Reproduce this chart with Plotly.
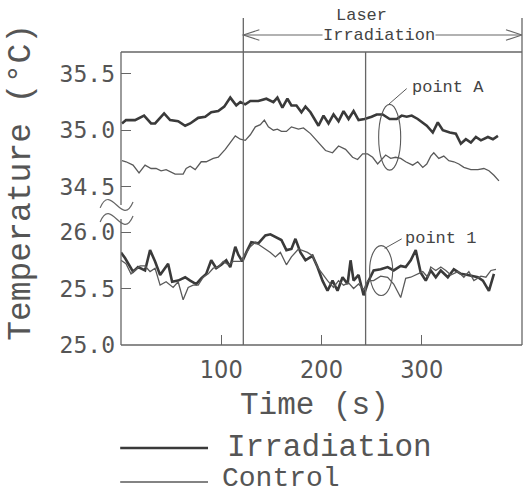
import plotly.graph_objects as go

# ---------------- data ----------------
# point A (upper, broken-axis part), irradiation (thick) and control (thin)
irr_A_t = [1, 5, 14, 23, 30, 34, 43, 49, 57, 64, 69, 77, 84, 90, 97, 103, 109, 115, 119, 124,
           129, 137, 145, 152, 156, 161, 166, 170, 175, 180, 184, 189, 197, 202, 207, 212, 217,
           222, 227, 232, 237, 243, 250, 255, 261, 268, 275, 280, 285, 290, 296, 301, 305, 311,
           316, 321, 328, 334, 339, 344, 349, 354, 359, 366, 371, 376]
irr_A = [35.06, 35.09, 35.09, 35.13, 35.06, 35.06, 35.15, 35.09, 35.08, 35.04, 35.06, 35.11, 35.12,
         35.16, 35.17, 35.21, 35.29, 35.22, 35.25, 35.23, 35.26, 35.26, 35.28, 35.25, 35.29, 35.20,
         35.28, 35.22, 35.22, 35.16, 35.21, 35.16, 35.04, 35.13, 35.06, 35.14, 35.08, 35.17, 35.10,
         35.17, 35.09, 35.10, 35.12, 35.14, 35.14, 35.10, 35.10, 35.13, 35.12, 35.13, 35.10, 35.07,
         35.04, 34.98, 35.07, 35.00, 34.98, 34.97, 34.88, 34.92, 34.89, 34.94, 34.91, 34.94, 34.92,
         34.95]

ctl_A_t = [1, 5, 12, 18, 24, 30, 35, 40, 45, 54, 62, 65, 69, 74, 80, 85, 92, 97, 104, 109, 114,
           119, 124, 129, 134, 139, 143, 147, 152, 156, 160, 165, 170, 177, 182, 189, 191, 197,
           204, 211, 217, 224, 231, 236, 241, 246, 251, 256, 264, 269, 274, 279, 284, 291, 296,
           301, 305, 309, 312, 317, 322, 327, 332, 337, 342, 349, 356, 362, 367, 372, 377]
ctl_A = [34.73, 34.72, 34.69, 34.62, 34.69, 34.66, 34.66, 34.64, 34.65, 34.61, 34.61, 34.66, 34.68,
         34.65, 34.72, 34.72, 34.75, 34.76, 34.83, 34.89, 34.95, 34.92, 34.91, 34.96, 35.03, 35.05,
         35.09, 35.03, 35.00, 35.01, 34.99, 34.99, 35.03, 35.01, 35.02, 34.97, 34.95, 34.89, 34.82,
         34.80, 34.86, 34.83, 34.76, 34.74, 34.79, 34.79, 34.76, 34.70, 34.78, 34.75, 34.76, 34.75,
         34.72, 34.69, 34.72, 34.67, 34.70, 34.77, 34.80, 34.75, 34.77, 34.73, 34.72, 34.70, 34.67,
         34.65, 34.65, 34.66, 34.64, 34.60, 34.55]

# point 1 (lower part)
irr_1_t = [0, 4, 12, 17, 24, 29, 34, 39, 47, 51, 57, 64, 69, 75, 80, 85, 90, 95, 100, 105, 109,
           114, 117, 121, 125, 130, 137, 144, 149, 155, 160, 165, 170, 174, 179, 184, 191, 196,
           201, 206, 211, 216, 221, 226, 229, 232, 237, 242, 247, 252, 259, 266, 272, 279, 284,
           289, 294, 299, 304, 309, 314, 319, 326, 332, 339, 346, 356, 361, 367, 372]
irr_1 = [25.82, 25.77, 25.65, 25.69, 25.66, 25.84, 25.74, 25.62, 25.72, 25.56, 25.57, 25.60, 25.57,
         25.54, 25.59, 25.63, 25.75, 25.68, 25.71, 25.75, 25.69, 25.87, 25.80, 25.74, 25.82, 25.91,
         25.90, 25.97, 25.98, 25.95, 25.93, 25.84, 25.85, 25.94, 25.82, 25.75, 25.79, 25.69, 25.57,
         25.48, 25.57, 25.48, 25.60, 25.54, 25.75, 25.57, 25.62, 25.44, 25.57, 25.66, 25.67, 25.69,
         25.66, 25.70, 25.69, 25.75, 25.84, 25.64, 25.57, 25.66, 25.60, 25.66, 25.60, 25.67, 25.63,
         25.62, 25.60, 25.57, 25.48, 25.63]

ctl_1_t = [0, 5, 10, 14, 19, 24, 29, 34, 39, 45, 52, 57, 62, 67, 72, 77, 82, 87, 92, 97, 102, 107,
           112, 119, 124, 129, 134, 139, 144, 149, 154, 159, 165, 170, 177, 186, 191, 196, 201,
           206, 212, 217, 222, 227, 232, 237, 242, 246, 252, 259, 266, 272, 279, 284, 289, 296,
           301, 306, 309, 314, 319, 324, 329, 336, 342, 347, 352, 359, 364, 369, 374]
ctl_1 = [25.75, 25.72, 25.63, 25.66, 25.70, 25.70, 25.65, 25.68, 25.53, 25.56, 25.51, 25.56, 25.40,
         25.51, 25.53, 25.53, 25.60, 25.63, 25.68, 25.69, 25.74, 25.71, 25.74, 25.74, 25.81, 25.87,
         25.91, 25.88, 25.85, 25.82, 25.78, 25.82, 25.71, 25.78, 25.85, 25.82, 25.79, 25.69, 25.63,
         25.57, 25.51, 25.57, 25.53, 25.55, 25.50, 25.54, 25.49, 25.57, 25.57, 25.61, 25.60, 25.54,
         25.42, 25.59, 25.60, 25.63, 25.65, 25.60, 25.69, 25.66, 25.69, 25.66, 25.62, 25.65, 25.60,
         25.65, 25.57, 25.61, 25.60, 25.66, 25.67]

event_times = [122, 244]          # start of laser irradiation / marker line
x_ticks = [100, 200, 300]
y_low_ticks = [25.0, 25.5, 26.0]
y_high_ticks = [34.5, 35.0, 35.5]
series_names = ["Irradiation", "Control"]

# ---------------- styling ----------------
INK = "#3a3a3a"
THIN = "#5a5a5a"
FRAME = "#666666"
MONO = "Liberation Mono"

fig = go.Figure()
fig.add_trace(go.Scatter(x=irr_A_t, y=irr_A, yaxis="y2", mode="lines",
                         line=dict(color=INK, width=2.6), name=series_names[0], showlegend=False))
fig.add_trace(go.Scatter(x=ctl_A_t, y=ctl_A, yaxis="y2", mode="lines",
                         line=dict(color=THIN, width=1.3), name=series_names[1], showlegend=False))
fig.add_trace(go.Scatter(x=irr_1_t, y=irr_1, yaxis="y", mode="lines",
                         line=dict(color=INK, width=2.6), name=series_names[0], showlegend=False))
fig.add_trace(go.Scatter(x=ctl_1_t, y=ctl_1, yaxis="y", mode="lines",
                         line=dict(color=THIN, width=1.3), name=series_names[1], showlegend=False))

split = 0.4625
ytick_font = dict(family="DejaVu Sans Mono, monospace", size=23, color="#555")
fig.update_layout(
    width=526, height=493,
    margin=dict(l=121, r=4, t=52, b=148),
    paper_bgcolor="white", plot_bgcolor="white",
    xaxis=dict(range=[0, 400], showgrid=False, zeroline=False, showline=False, automargin=False,
               tickvals=x_ticks, ticks="inside", ticklen=10, tickcolor=FRAME, tickwidth=1,
               ticklabelstandoff=7,
               tickfont=dict(family="Liberation Sans Narrow, DejaVu Sans Condensed, Liberation Sans",
                             size=25, color="#555")),
    yaxis=dict(domain=[0, split], range=[25.0, 26.2], showgrid=False, zeroline=False,
               showline=False, automargin=False, tickvals=y_low_ticks,
               ticktext=["%.1f" % v for v in y_low_ticks], ticklabelstandoff=5,
               ticks="inside", ticklen=10, tickcolor=FRAME, tickfont=ytick_font),
    yaxis2=dict(domain=[split, 1], range=[34.296, 35.695], anchor="x", showgrid=False,
                zeroline=False, showline=False, automargin=False, tickvals=y_high_ticks,
                ticktext=["%.1f" % v for v in y_high_ticks], ticklabelstandoff=5,
                ticks="inside", ticklen=10, tickcolor=FRAME, tickfont=ytick_font),
    showlegend=False,
)

shapes = []
L = dict(color=FRAME, width=1.3)
# frame
shapes.append(dict(type="line", xref="paper", yref="paper", x0=0, x1=1, y0=1, y1=1, line=L))
shapes.append(dict(type="line", xref="paper", yref="paper", x0=0, x1=1, y0=0, y1=0, line=L))
shapes.append(dict(type="line", xref="paper", yref="paper", x0=1, x1=1, y0=0, y1=1.116, line=L))
shapes.append(dict(type="line", xref="paper", yref="paper", x0=0, x1=0, y0=0, y1=0.43, line=L))
shapes.append(dict(type="line", xref="paper", yref="paper", x0=0, x1=0, y0=0.478, y1=1, line=L))
# axis break marks
for yb in (0.478, 0.43):
    x0, w, a = -0.052, 0.082, 0.08
    shapes.append(dict(type="path", xref="paper", yref="paper",
                       path=f"M {x0},{yb - 0.01} C {x0 + w / 3},{yb + a} {x0 + 2 * w / 3},{yb - a} {x0 + w},{yb + 0.01}",
                       line=dict(color=FRAME, width=1.2)))
# event lines
shapes.append(dict(type="line", xref="x", yref="paper", x0=event_times[0], x1=event_times[0],
                   y0=0, y1=1.116, line=L))
shapes.append(dict(type="line", xref="x", yref="paper", x0=event_times[1], x1=event_times[1],
                   y0=0, y1=1, line=L))
# laser irradiation double arrow
ya = 1.058
shapes.append(dict(type="line", xref="x", yref="paper", x0=event_times[0], x1=400, y0=ya, y1=ya,
                   line=dict(color=FRAME, width=1.1)))
shapes.append(dict(type="path", xref="x", yref="paper",
                   path=f"M {event_times[0] + 16},{ya + 0.018} L {event_times[0]},{ya} L {event_times[0] + 16},{ya - 0.018}",
                   line=dict(color=FRAME, width=1.1)))
shapes.append(dict(type="path", xref="x", yref="paper",
                   path=f"M {400 - 16},{ya + 0.018} L 400,{ya} L {400 - 16},{ya - 0.018}",
                   line=dict(color=FRAME, width=1.1)))
# ellipses around point A and point 1
shapes.append(dict(type="circle", xref="x", yref="y2", x0=257, x1=279, y0=34.646, y1=35.23,
                   line=dict(color=THIN, width=1.1)))
shapes.append(dict(type="circle", xref="x", yref="y", x0=248, x1=271, y0=25.438, y1=25.88,
                   line=dict(color=THIN, width=1.1)))
# pointer lines
shapes.append(dict(type="line", xref="x", yref="y2", x0=267, x1=285, y0=35.23, y1=35.37,
                   line=dict(color=THIN, width=1)))
shapes.append(dict(type="line", xref="x", yref="y", x0=263, x1=280, y0=25.855, y1=25.94,
                   line=dict(color=THIN, width=1)))
# manual legend lines
shapes.append(dict(type="line", xref="paper", yref="paper", x0=-0.002, x1=0.217, y0=-0.3515,
                   y1=-0.3515, line=dict(color=INK, width=2.4)))
shapes.append(dict(type="line", xref="paper", yref="paper", x0=-0.002, x1=0.217, y0=-0.4676,
                   y1=-0.4676, line=dict(color=THIN, width=1.3)))
fig.update_layout(shapes=shapes)

ann = []
small = dict(family=MONO, size=17, color="#444")
ann.append(dict(text="Laser", xref="x", yref="paper", x=240, y=1.126, showarrow=False,
                font=small, xanchor="center", yanchor="middle"))
ann.append(dict(text="Irradiation", xref="x", yref="paper", x=257, y=ya, showarrow=False,
                font=small, xanchor="center", yanchor="middle", bgcolor="white", borderpad=0))
ann.append(dict(text="point A", xref="x", yref="y2", x=288, y=35.38, showarrow=False,
                font=small, xanchor="left", yanchor="middle"))
ann.append(dict(text="point 1", xref="x", yref="y", x=281, y=25.945, showarrow=False,
                font=small, xanchor="left", yanchor="middle"))
big = dict(family=MONO, size=31, color="#555")
ann.append(dict(text="Time (s)", xref="paper", yref="paper", x=0.483, y=-0.205, showarrow=False,
                font=big, xanchor="center", yanchor="middle"))
ann.append(dict(text="Temperature (°C)", xref="paper", yref="paper", x=-0.25, y=0.556,
                showarrow=False, font=dict(family=MONO, size=33, color="#555"), textangle=-90,
                xanchor="center", yanchor="middle"))
ann.append(dict(text=series_names[0], xref="paper", yref="paper", x=0.259, y=-0.3515,
                showarrow=False, font=big, xanchor="left", yanchor="middle"))
ann.append(dict(text=series_names[1], xref="paper", yref="paper", x=0.247, y=-0.457,
                showarrow=False, font=dict(family=MONO, size=28, color="#555"),
                xanchor="left", yanchor="middle"))
fig.update_layout(annotations=ann)

fig.write_html("out.html", config={"displayModeBar": False},
               post_script="document.body.style.margin='0';")
